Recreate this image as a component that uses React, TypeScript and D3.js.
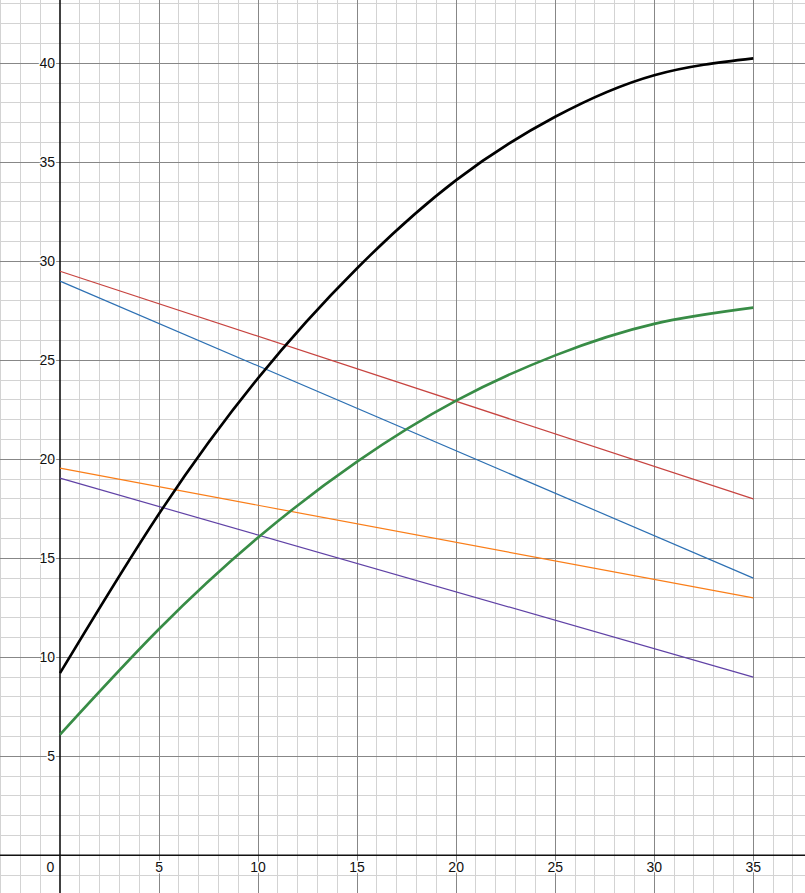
import * as d3 from "d3";
import { useEffect, useRef } from "react";

// Sample positions along x (shared by every series)
const xs = [0, 5, 10, 15, 20, 25, 30, 35];
// Curves at each x
const blackVals = [9.2, 17.25, 24.1, 29.65, 34.1, 37.3, 39.4, 40.25];
const greenVals = [6.1, 11.43, 16.05, 19.88, 22.96, 25.25, 26.84, 27.66];
// Straight lines: values at x = 0 and x = 35
const lineXs = [0, 35];
const redVals = [29.5, 18];
const blueVals = [29, 14];
const orangeVals = [19.55, 13];
const purpleVals = [19.05, 9];

const xTickLabels = [5, 10, 15, 20, 25, 30, 35];
const yTickLabels = [5, 10, 15, 20, 25, 30, 35, 40];

export default function App() {
  const svgRef = useRef<SVGSVGElement>(null);
  const w = 805;
  const h = 893;

  useEffect(() => {
    if (!svgRef.current) return;
    const unit = 19.808;
    const x = d3.scaleLinear().domain([-60 / unit, (w - 60) / unit]).range([0, w]);
    const y = d3.scaleLinear().domain([(855.3 - h) / 19.8, 855.3 / 19.8]).range([h, 0]);

    const svg = d3.select(svgRef.current);
    svg.selectAll("*").remove();
    svg.append("rect").attr("width", w).attr("height", h).attr("fill", "#fff");

    const crisp = (v: number) => Math.floor(v) + 0.5;

    // Grid: minor every unit, major every 5
    const xGrid = d3.range(Math.ceil(x.domain()[0]), Math.floor(x.domain()[1]) + 1);
    const yGrid = d3.range(Math.ceil(y.domain()[0]), Math.floor(y.domain()[1]) + 1);
    const grid = svg.append("g");
    [false, true].forEach((major) => {
      xGrid
        .filter((v) => v !== 0 && (v % 5 === 0) === major)
        .forEach((v) => {
          grid.append("line")
            .attr("x1", crisp(x(v))).attr("x2", crisp(x(v)))
            .attr("y1", 0).attr("y2", h)
            .attr("stroke", major ? "#878787" : "#d3d3d3")
            .attr("stroke-width", 1);
        });
      yGrid
        .filter((v) => v !== 0 && (v % 5 === 0) === major)
        .forEach((v) => {
          grid.append("line")
            .attr("x1", 0).attr("x2", w)
            .attr("y1", crisp(y(v))).attr("y2", crisp(y(v)))
            .attr("stroke", major ? "#878787" : "#d3d3d3")
            .attr("stroke-width", 1);
        });
    });

    // Axes
    svg.append("line")
      .attr("x1", x(0)).attr("x2", x(0)).attr("y1", 0).attr("y2", h)
      .attr("stroke", "#111").attr("stroke-width", 1.6);
    svg.append("line")
      .attr("x1", 0).attr("x2", w).attr("y1", y(0)).attr("y2", y(0))
      .attr("stroke", "#111").attr("stroke-width", 1.6);

    // Labels (white halo like the original)
    const labelStyle = (t: d3.Selection<SVGTextElement, unknown, null, undefined>) =>
      t.attr("font-family", "'Liberation Sans', Arial, sans-serif")
        .attr("font-size", 14)
        .attr("fill", "#111")
        .attr("stroke", "#fff")
        .attr("stroke-width", 3)
        .attr("stroke-linejoin", "round")
        .attr("paint-order", "stroke");

    yTickLabels.forEach((v) => {
      svg.append("text")
        .attr("x", x(0) - 5)
        .attr("y", y(v) + 5)
        .attr("text-anchor", "end")
        .text(String(v))
        .call(labelStyle);
    });
    xTickLabels.forEach((v) => {
      svg.append("text")
        .attr("x", x(v))
        .attr("y", y(0) + 17)
        .attr("text-anchor", "middle")
        .text(String(v))
        .call(labelStyle);
    });
    svg.append("text")
      .attr("x", x(0) - 9.5)
      .attr("y", y(0) + 17)
      .attr("text-anchor", "middle")
      .text("0")
      .call(labelStyle);

    // Series
    const line = d3
      .line<[number, number]>()
      .x((d) => x(d[0]))
      .y((d) => y(d[1]))
      .curve(d3.curveNatural);

    const series: { xv: number[]; yv: number[]; color: string; width: number }[] = [
      { xv: lineXs, yv: redVals, color: "#c74440", width: 1.2 },
      { xv: lineXs, yv: blueVals, color: "#2d70b3", width: 1.2 },
      { xv: lineXs, yv: orangeVals, color: "#fa7e19", width: 1.2 },
      { xv: lineXs, yv: purpleVals, color: "#6042a6", width: 1.2 },
      { xv: xs, yv: greenVals, color: "#388c46", width: 2.6 },
      { xv: xs, yv: blackVals, color: "#000000", width: 2.6 },
    ];
    series.forEach((s) => {
      const pts = s.xv.map((v, i) => [v, s.yv[i]] as [number, number]);
      svg.append("path")
        .attr("d", line(pts) ?? "")
        .attr("fill", "none")
        .attr("stroke", s.color)
        .attr("stroke-width", s.width)
        .attr("stroke-linecap", "butt");
    });
  }, []);

  return (
    <svg
      ref={svgRef}
      width={w}
      height={h}
      viewBox={`0 0 ${w} ${h}`}
      style={{ position: "absolute", left: 0, top: 0, display: "block" }}
    />
  );
}
